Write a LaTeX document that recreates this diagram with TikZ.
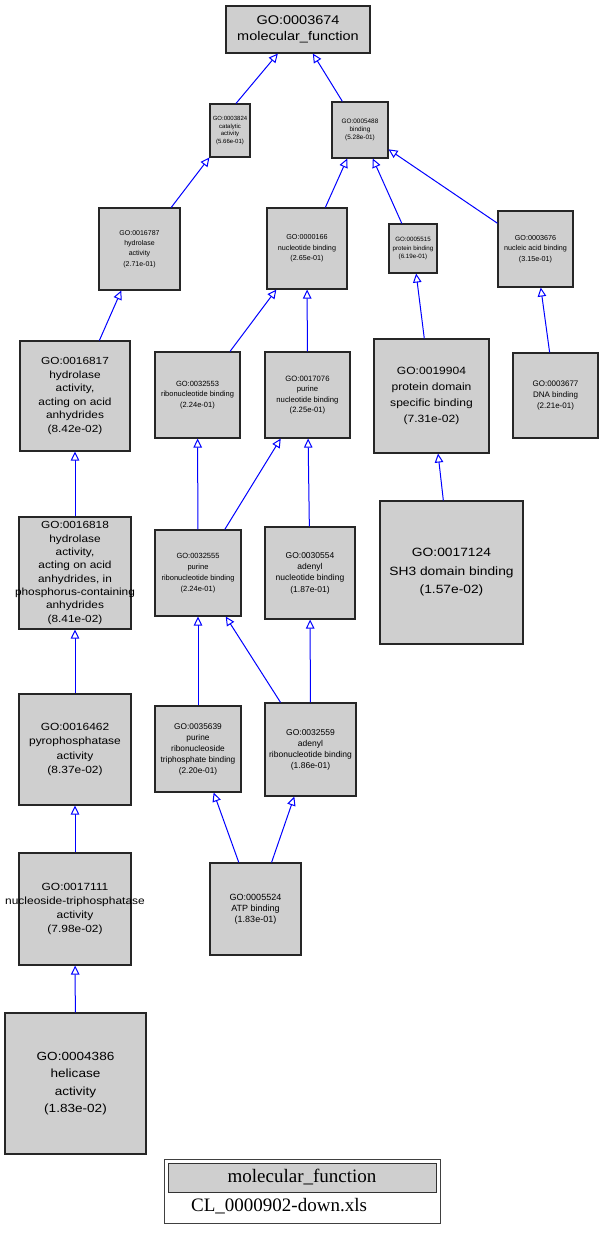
\documentclass[tikz,border=0pt]{standalone}
\usepackage{fontspec}
\setmainfont{Liberation Sans}
\newfontfamily\widesans{Liberation Sans}[FakeStretch=1.15]
\newfontfamily\legendserif{Liberation Serif}
\usetikzlibrary{arrows.meta}
\definecolor{gofill}{RGB}{207,207,207}
\definecolor{edgeblue}{RGB}{0,0,255}
% a label line that may run past the box edge without widening the box
\newcommand{\overhang}[1]{\makebox[0pt][c]{#1}}

\begin{document}
\begin{tikzpicture}[x=1pt,y=-1pt,
  goterm/.style={draw=black!85, fill=gofill, line width=1.1pt, inner sep=0pt, align=center},
  gobox/.style 2 args={minimum width=#1pt, minimum height=#2pt},
  fs/.style 2 args={font=\fontsize{#1}{#2}\selectfont},
  wfs/.style 2 args={font=\widesans\fontsize{#1}{#2}\selectfont},
  isa/.style={draw=edgeblue, line width=1pt, -{Triangle[length=9pt,width=8.5pt,fill=white]}}]

\useasboundingbox (0,0) rectangle (604,1233);

% GO terms
\node[goterm, gobox={144}{47}, wfs={12.6}{16.7}] (n3674) at (298,29.5) {GO:0003674\\molecular\_function};
\node[goterm, gobox={40}{53}, fs={6}{7.6}] (n3824) at (230,130.5) {GO:0003824\\catalytic\\activity\\(5.66e-01)};
\node[goterm, gobox={56}{56}, fs={6.4}{8}] (n5488) at (360,130) {GO:0005488\\binding\\(5.28e-01)};
\node[goterm, gobox={81}{82}, fs={7}{10.2}] (n16787) at (139.5,249) {GO:0016787\\hydrolase\\activity\\(2.71e-01)};
\node[goterm, gobox={80}{81}, fs={7.2}{10.3}] (n166) at (307,248.5) {GO:0000166\\nucleotide binding\\(2.65e-01)};
\node[goterm, gobox={48}{49}, fs={6.2}{8.3}] (n5515) at (413,248.5) {GO:0005515\\protein binding\\(6.19e-01)};
\node[goterm, gobox={75}{76}, fs={7.2}{10.3}] (n3676) at (535.5,249) {GO:0003676\\nucleic acid binding\\(3.15e-01)};
\node[goterm, gobox={110}{110}, wfs={10.3}{13.6}] (n16817) at (75,396) {GO:0016817\\hydrolase\\activity,\\acting on acid\\anhydrides\\(8.42e-02)};
\node[goterm, gobox={85}{86}, fs={7.5}{10.8}] (n32553) at (197.5,395) {GO:0032553\\ribonucleotide binding\\(2.24e-01)};
\node[goterm, gobox={85}{86}, fs={7.7}{10.5}] (n17076) at (307.5,395) {GO:0017076\\purine\\nucleotide binding\\(2.25e-01)};
\node[goterm, gobox={115}{114}, wfs={10.5}{16}] (n19904) at (431.5,396) {GO:0019904\\protein domain\\specific binding\\(7.31e-02)};
\node[goterm, gobox={85}{85}, fs={8}{10.8}] (n3677) at (555.5,395.5) {GO:0003677\\DNA binding\\(2.21e-01)};
\node[goterm, gobox={112}{112}, wfs={10.3}{13.3}] (n16818) at (75,573) {GO:0016818\\hydrolase\\activity,\\acting on acid\\anhydrides, in\\\overhang{phosphorus-containing}\\anhydrides\\(8.41e-02)};
\node[goterm, gobox={86}{86}, fs={7.5}{10.8}] (n32555) at (198,573) {GO:0032555\\purine\\ribonucleotide binding\\(2.24e-01)};
\node[goterm, gobox={90}{92}, fs={8.5}{11.3}] (n30554) at (310,573) {GO:0030554\\adenyl\\nucleotide binding\\(1.87e-01)};
\node[goterm, gobox={143}{143}, wfs={12}{18.5}] (n17124) at (451.5,572.5) {GO:0017124\\SH3 domain binding\\(1.57e-02)};
\node[goterm, gobox={112}{111}, wfs={10.4}{14.5}] (n16462) at (75,749.5) {GO:0016462\\pyrophosphatase\\activity\\(8.37e-02)};
\node[goterm, gobox={86}{86}, fs={8.3}{11}] (n35639) at (198,749) {GO:0035639\\purine\\ribonucleoside\\triphosphate binding\\(2.20e-01)};
\node[goterm, gobox={91}{93}, fs={8.5}{11}] (n32559) at (310.5,749.5) {GO:0032559\\adenyl\\ribonucleotide binding\\(1.86e-01)};
\node[goterm, gobox={112}{112}, wfs={10.4}{14}] (n17111) at (75,909) {GO:0017111\\\overhang{nucleoside-triphosphatase}\\activity\\(7.98e-02)};
\node[goterm, gobox={91}{92}, fs={9}{11}] (n5524) at (255.5,909) {GO:0005524\\ATP binding\\(1.83e-01)};
\node[goterm, gobox={141}{141}, wfs={11.8}{17.4}] (n4386) at (75.5,1083.5) {GO:0004386\\helicase\\activity\\(1.83e-02)};

% is_a relations, child -> parent
\draw[isa] ([xshift=6pt]n3824.north) -- (n3674);
\draw[isa] (n5488) -- (n3674);
\draw[isa] (n16787) -- (n3824);
\draw[isa] (n166) -- (n5488);
\draw[isa] (n5515) -- (n5488);
\draw[isa] (n3676) -- (n5488);
\draw[isa] (n16817) -- (n16787);
\draw[isa] (n32553) -- (n166);
\draw[isa] (n17076) -- (n166);
\draw[isa] (n19904) -- (n5515);
\draw[isa] (n3677) -- (n3676);
\draw[isa] (n16818) -- (n16817);
\draw[isa] (n32555) -- (n32553);
\draw[isa] (n32555) -- (n17076);
\draw[isa] (n30554) -- (n17076);
\draw[isa] (n17124) -- (n19904);
\draw[isa] (n16462) -- (n16818);
\draw[isa] (n35639) -- (n32555);
\draw[isa] (n32559) -- (n32555);
\draw[isa] (n32559) -- (n30554);
\draw[isa] (n17111) -- (n16462);
\draw[isa] (n5524) -- (n35639);
\draw[isa] (n5524) -- (n32559);
\draw[isa] (n4386) -- (n17111);

% legend
\node[draw=black!75, line width=1pt, fill=white, minimum width=276pt, minimum height=64pt, inner sep=0pt] (legend) at (302,1191) {};
\node[draw=black!80, line width=1pt, fill=gofill, minimum width=268pt, minimum height=29pt, inner sep=0pt,
      font=\legendserif\fontsize{19}{21}\selectfont] (legendhead) at (302,1177.5) {molecular\_function};
\node[anchor=west, inner sep=0pt, font=\legendserif\fontsize{19}{21}\selectfont] (legendfile) at (191,1206) {CL\_0000902-down.xls};
\end{tikzpicture}
\end{document}
